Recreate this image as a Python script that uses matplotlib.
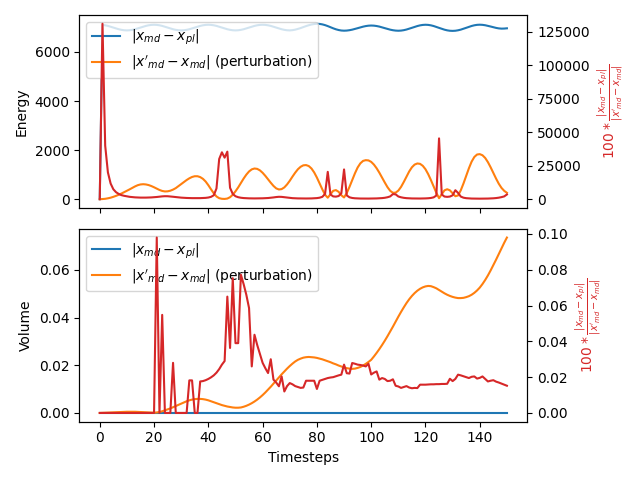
import numpy as np
import matplotlib
matplotlib.use("Agg")
import matplotlib.pyplot as plt

# timesteps 0..150
timesteps = np.arange(151)

# ---- energy panel ----
energy_diff = [
    0,
    7104, 7088, 7063, 7031, 6995, 6959, 6927, 6902, 6886, 6880,
    6886, 6902, 6927, 6959, 6995, 7031, 7063, 7088, 7104, 7110,
    7104, 7088, 7063, 7031, 6995, 6959, 6927, 6902, 6886, 6880,
    6886, 6902, 6927, 6959, 6995, 7031, 7063, 7088, 7104, 7110,
    7104, 7088, 7063, 7031, 6995, 6959, 6927, 6902, 6886, 6880,
    6886, 6902, 6927, 6959, 6995, 7031, 7063, 7088, 7104, 7110,
    7104, 7088, 7063, 7031, 6995, 6959, 6927, 6902, 6886, 6880,
    6890, 6910, 6940, 6975, 7015, 7055, 7090, 7120, 7140, 7150,
    7144, 7125, 7095, 7055, 7010, 6965, 6925, 6895, 6875, 6868,
    6873, 6888, 6910, 6938, 6970, 7002, 7032, 7056, 7072, 7078,
    7073, 7058, 7035, 7005, 6972, 6940, 6910, 6887, 6872, 6866,
    6872, 6889, 6915, 6948, 6985, 7022, 7057, 7085, 7103, 7110,
    7104, 7086, 7058, 7022, 6983, 6944, 6909, 6882, 6865, 6860,
    6866, 6884, 6911, 6946, 6985, 7024, 7060, 7088, 7106, 7112,
    7106, 7090, 7066, 7038, 7008, 6982, 6962, 6952, 6955, 6965,
]

energy_pert = [
    0,
    5, 15, 35, 60, 95, 135, 180, 230, 285, 340,
    400, 460, 520, 570, 600, 610, 600, 575, 535, 485,
    430, 375, 335, 315, 320, 345, 390, 450, 530, 615,
    700, 780, 850, 905, 935, 935, 900, 830, 720, 570,
    400, 240, 110, 40, 15, 10, 25, 80, 180, 320,
    480, 660, 840, 1000, 1130, 1215, 1250, 1235, 1175, 1075,
    950, 810, 670, 540, 440, 395, 410, 480, 600, 750,
    920, 1080, 1220, 1320, 1380, 1390, 1350, 1250, 1090, 880,
    640, 400, 180, 60, 200, 340, 370, 300, 160, 70,
    250, 500, 780, 1050, 1290, 1460, 1560, 1590, 1580, 1520,
    1410, 1260, 1080, 880, 680, 490, 340, 260, 265, 350,
    500, 700, 920, 1130, 1300, 1410, 1455, 1440, 1360, 1220,
    1020, 780, 520, 260, 40, 200, 360, 405, 360, 240,
    120, 150, 360, 640, 950, 1260, 1530, 1720, 1820, 1836,
    1790, 1680, 1510, 1300, 1070, 840, 630, 460, 340, 260,
]

energy_ratio = [
    0,
    131000, 40000, 20000, 11700, 7400, 5200, 3900, 3000, 2500, 2100,
    1750, 1520, 1350, 1230, 1170, 1150, 1170, 1220, 1310, 1440,
    1630, 1870, 2090, 2220, 2190, 2030, 1800, 1560, 1320, 1140,
    1000, 900, 820, 770, 750, 750, 780, 840, 970, 1230,
    1750, 2900, 8000, 30000, 35000, 31000, 35500, 8500, 3900, 2200,
    1460, 1060, 830, 700, 620, 575, 560, 570, 600, 650,
    740, 860, 1040, 1300, 1590, 1770, 1710, 1460, 1170, 930,
    760, 650, 575, 530, 510, 505, 520, 560, 640, 800,
    1100, 1750, 3900, 20400, 3500, 2060, 1890, 2330, 4400, 22200,
    2800, 1400, 900, 670, 540, 480, 450, 440, 445, 460,
    500, 560, 650, 800, 1030, 1430, 2060, 3800, 3600, 2000,
    1400, 1000, 760, 620, 540, 500, 480, 485, 515, 575,
    690, 900, 1350, 2700, 45400, 3500, 1950, 1730, 1950, 2900,
    6700, 4700, 1950, 1100, 740, 560, 460, 410, 385, 380,
    390, 415, 460, 540, 650, 830, 1110, 1520, 2060, 3500,
]

# ---- volume panel ----
volume_diff = [0.0] * 151

volume_pert = [
    0.0,
    0.00005, 0.0001, 0.00015, 0.0002, 0.00025, 0.0003, 0.00035, 0.0004, 0.00045, 0.0005,
    0.0005, 0.0005, 0.0005, 0.00045, 0.0004, 0.00035, 0.0003, 0.00022, 0.00015, 0.0001,
    0.0002, 0.0004, 0.0007, 0.0011, 0.0015, 0.0019, 0.0024, 0.0029, 0.0034, 0.0039,
    0.0044, 0.0049, 0.0053, 0.0056, 0.0058, 0.0059, 0.0059, 0.0058, 0.0056, 0.0053,
    0.0049, 0.0045, 0.0041, 0.0037, 0.0033, 0.0030, 0.0027, 0.0025, 0.0023, 0.0022,
    0.0022, 0.0023, 0.0026, 0.0030, 0.0035, 0.0041, 0.0048, 0.0056, 0.0065, 0.0075,
    0.0086, 0.0098, 0.0110, 0.0123, 0.0136, 0.0149, 0.0162, 0.0174, 0.0186, 0.0197,
    0.0207, 0.0216, 0.0223, 0.0228, 0.0232, 0.0234, 0.0235, 0.0234, 0.0233, 0.0231,
    0.0228, 0.0225, 0.0221, 0.0217, 0.0213, 0.0208, 0.0204, 0.0199, 0.0195, 0.0191,
    0.0188, 0.0186, 0.0185, 0.0186, 0.0189, 0.0193, 0.0199, 0.0206, 0.0214, 0.0223,
    0.0237, 0.0252, 0.0268, 0.0285, 0.0303, 0.0322, 0.0342, 0.0362, 0.0383, 0.0404,
    0.0424, 0.0443, 0.0461, 0.0477, 0.0491, 0.0503, 0.0513, 0.0521, 0.0527, 0.0531,
    0.0533, 0.0532, 0.0528, 0.0523, 0.0516, 0.0509, 0.0502, 0.0496, 0.0491, 0.0487,
    0.0484, 0.0482, 0.0482, 0.0483, 0.0486, 0.0490, 0.0496, 0.0504, 0.0514, 0.0526,
    0.0541, 0.0558, 0.0577, 0.0598, 0.0620, 0.0643, 0.0667, 0.0691, 0.0714, 0.0736,
]

volume_ratio = [
    0.0,
    0, 0, 0, 0, 0, 0, 0, 0, 0, 0,
    0, 0, 0, 0, 0, 0, 0, 0, 0, 0,
    0.098, 0, 0.0548, 0, 0, 0, 0.028, 0, 0, 0,
    0, 0, 0.0182, 0.0182, 0, 0, 0.0176, 0.0178, 0.0183, 0.019,
    0.0199, 0.021, 0.0225, 0.0245, 0.027, 0.029, 0.065, 0.0363, 0.0753, 0.039,
    0.039, 0.0772, 0.072, 0.066, 0.0586, 0.026, 0.0437, 0.038, 0.033, 0.028,
    0.025, 0.0223, 0.030, 0.0186, 0.017, 0.0149, 0.0204, 0.012, 0.015, 0.0167,
    0.016, 0.015, 0.0145, 0.014, 0.0142, 0.018, 0.018, 0.018, 0.018, 0.0134,
    0.018, 0.0185, 0.019, 0.0195, 0.0198, 0.020, 0.0205, 0.021, 0.0214, 0.027,
    0.0222, 0.022, 0.0279, 0.0275, 0.027, 0.0268, 0.0265, 0.026, 0.0275, 0.0215,
    0.0225, 0.0232, 0.0186, 0.0195, 0.019, 0.0178, 0.018, 0.0188, 0.0152, 0.0148,
    0.014, 0.0145, 0.015, 0.0142, 0.0138, 0.014, 0.0139, 0.0158, 0.0158, 0.0158,
    0.0159, 0.016, 0.016, 0.0161, 0.0161, 0.0162, 0.0162, 0.0163, 0.0191, 0.0178,
    0.019, 0.0214, 0.021, 0.0205, 0.02, 0.0195, 0.0202, 0.0204, 0.0192, 0.0196,
    0.0204, 0.019, 0.0176, 0.018, 0.0183, 0.0175, 0.017, 0.0164, 0.0158, 0.0152,
]

ratio_label = r"$100 * \frac{|x_{md} - x_{pl}|}{|x'_{md} - x_{md}|}$"
lbl_diff = r"$|x_{md} - x_{pl}|$"
lbl_pert = r"$|x'_{md} - x_{md}|$ (perturbation)"

fig, axes = plt.subplots(2, 1, sharex=True, figsize=(6.4, 4.8), dpi=100)

panels = [
    (axes[0], "Energy", energy_diff, energy_pert, energy_ratio),
    (axes[1], "Volume", volume_diff, volume_pert, volume_ratio),
]

for ax, name, diff, pert, ratio in panels:
    ax.plot(timesteps, diff, color="tab:blue", label=lbl_diff)
    ax.plot(timesteps, pert, color="tab:orange", label=lbl_pert)
    ax.set_ylabel(name)
    ax.legend(loc="upper left")

    ax2 = ax.twinx()
    ax2.plot(timesteps, ratio, color="tab:red")
    ax2.set_ylabel(ratio_label, color="tab:red")

axes[1].set_xlabel("Timesteps")

plt.tight_layout()
plt.savefig("out.png")
